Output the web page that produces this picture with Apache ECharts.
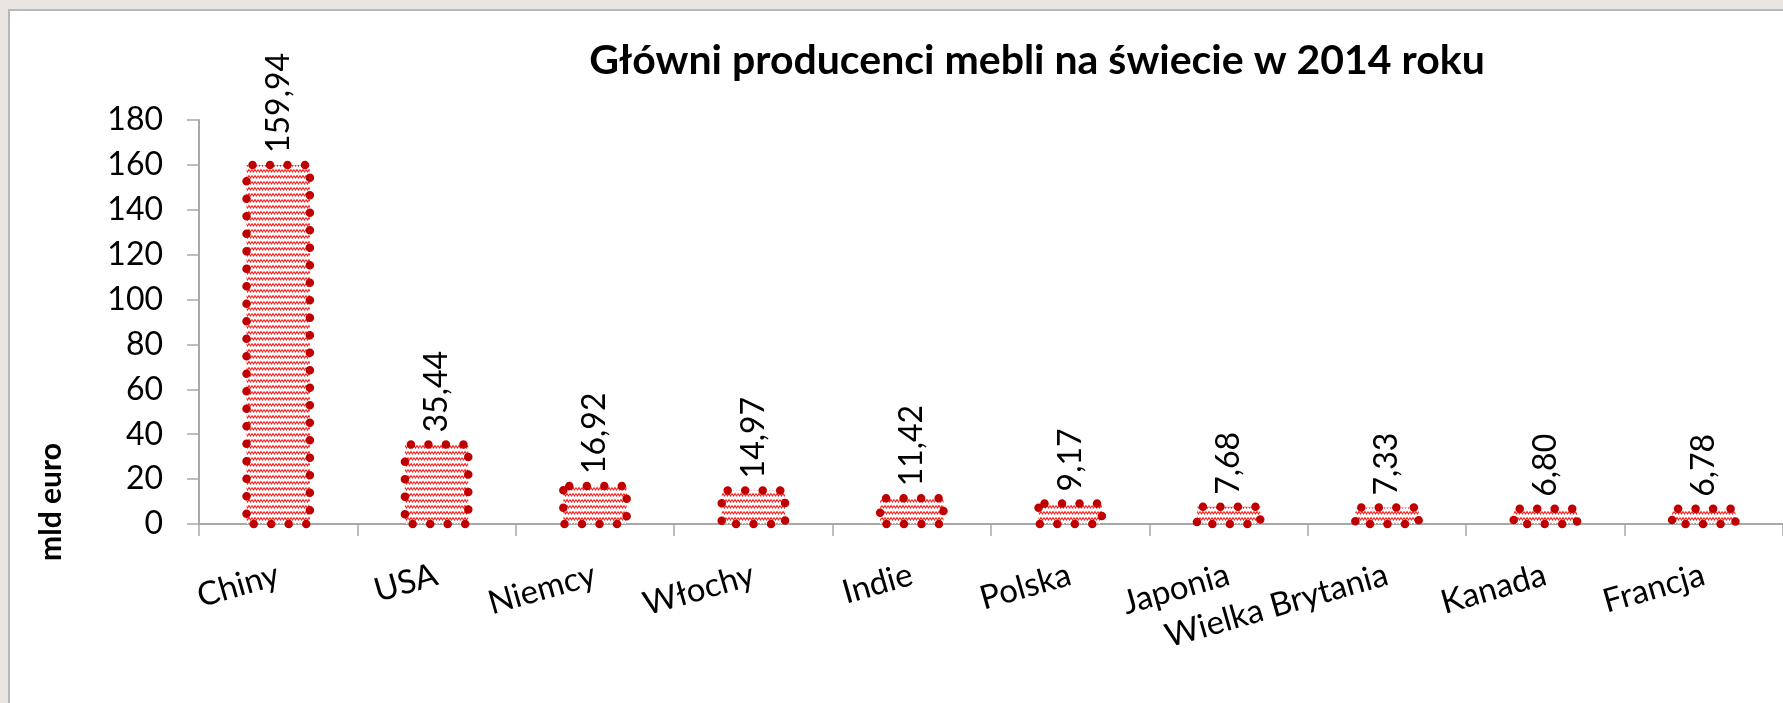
<!DOCTYPE html>
<html>
<head>
<meta charset="utf-8">
<script src="https://cdn.jsdelivr.net/npm/echarts@6/dist/echarts.min.js"></script>
<style>
  html, body { margin: 0; padding: 0; background: #e8e5e2; }
  #panel { position: absolute; left: 8px; top: 9px; right: 0; bottom: 0; background: #fff;
           border-top: 2px solid #b9b7b4; border-left: 2px solid #b9b7b4; }
  #chart { position: absolute; left: 0; top: 0; width: 1783px; height: 703px; }
</style>
</head>
<body>
<div id="panel"></div>
<div id="chart"></div>
<script>
// kraje i produkcja mebli (mld euro)
const countries = ['Chiny', 'USA', 'Niemcy', 'Włochy', 'Indie', 'Polska', 'Japonia', 'Wielka Brytania', 'Kanada', 'Francja'];
const production = [159.94, 35.44, 16.92, 14.97, 11.42, 9.17, 7.68, 7.33, 6.80, 6.78];
const yTicks = [0, 20, 40, 60, 80, 100, 120, 140, 160, 180];

// wzór zygzaka do wypełnienia słupków
const pat = document.createElement('canvas');
pat.width = 6;
pat.height = 6;
const pc = pat.getContext('2d');
pc.fillStyle = '#fff';
pc.fillRect(0, 0, 6, 6);
pc.strokeStyle = '#ff1a1a';
pc.lineWidth = 1.1;
pc.beginPath();
pc.moveTo(0, 1.5);
pc.lineTo(1.5, 4);
pc.lineTo(3, 1.5);
pc.lineTo(4.5, 4);
pc.lineTo(6, 1.5);
pc.stroke();

const font = 'Lato';
const barRatio = 0.4;
const myChart = echarts.init(document.getElementById('chart'));

myChart.setOption({
  backgroundColor: 'transparent',
  animation: false,
  title: {
    text: 'Główni producenci mebli na świecie w 2014 roku',
    left: 1032,
    top: 35,
    textAlign: 'center',
    textStyle: { fontFamily: font, fontSize: 41, fontWeight: 'bold', color: '#000' },
  },
  graphic: [{
    type: 'text',
    x: 51,
    y: 502,
    rotation: Math.PI / 2,
    style: {
      text: 'mld euro',
      font: 'bold 30px Lato',
      fill: '#000',
      textAlign: 'center',
      textVerticalAlign: 'middle',
    },
  }],
  grid: { left: 199, right: -6, top: 120, bottom: 179 },
  xAxis: {
    type: 'category',
    data: countries.map(c => c === 'Wielka Brytania'
      ? { value: c, textStyle: { padding: [76, 0, 0, 0] } }
      : c),
    axisLine: { lineStyle: { color: '#a8a8a8', width: 2 } },
    axisTick: { show: true, length: 12, interval: 0, lineStyle: { color: '#a8a8a8', width: 1.5 } },
    axisLabel: {
      interval: 0,
      rotate: 16,
      margin: 50,
      fontFamily: font,
      fontSize: 33,
      color: '#000',
    },
  },
  yAxis: {
    type: 'value',
    min: yTicks[0],
    max: yTicks[yTicks.length - 1],
    interval: 20,
    axisLine: { show: true, lineStyle: { color: '#a8a8a8', width: 2 } },
    axisTick: { show: true, length: 12, lineStyle: { color: '#a8a8a8', width: 1.5 } },
    splitLine: { show: false },
    axisLabel: {
      margin: 36,
      fontFamily: font,
      fontSize: 32,
      color: '#000',
    },
  },
  series: [
    {
      // wypełnienie + etykiety
      type: 'bar',
      data: production,
      barWidth: barRatio * 100 + '%',
      itemStyle: { color: { image: pat, repeat: 'repeat' } },
      label: {
        show: true,
        position: 'top',
        rotate: 90,
        align: 'left',
        verticalAlign: 'middle',
        distance: 12,
        fontFamily: font,
        fontSize: 32,
        color: '#000',
        formatter: p => p.value.toFixed(2).replace('.', ','),
      },
    },
    {
      // kropkowana ramka słupków
      type: 'custom',
      data: production.map((v, i) => [i, v]),
      z: 3,
      silent: true,
      renderItem: (params, api) => {
        const top = api.coord([api.value(0), api.value(1)]);
        const base = api.coord([api.value(0), 0]);
        const w = api.size([1, 0])[0] * barRatio;
        return {
          type: 'rect',
          shape: { x: top[0] - w / 2, y: top[1], width: w, height: base[1] - top[1] },
          style: {
            fill: 'none',
            stroke: '#c00000',
            lineWidth: 8.5,
            lineDash: [0, 17.5],
            lineDashOffset: 11.5,
            lineCap: 'round',
          },
        };
      },
    },
  ],
});
</script>
</body>
</html>
